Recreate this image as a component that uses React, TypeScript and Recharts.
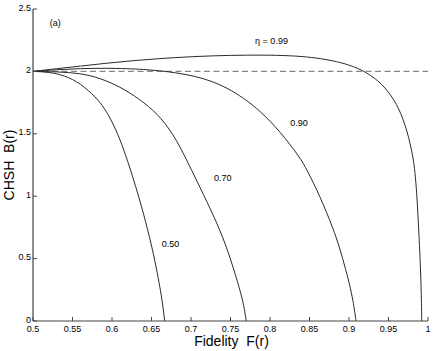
import React from 'react';
import { LineChart, Line, XAxis, YAxis, ReferenceLine, ReferenceDot, Label } from 'recharts';

// tick values
const xTicks = [0.5, 0.55, 0.6, 0.65, 0.7, 0.75, 0.8, 0.85, 0.9, 0.95, 1];
const yTicks = [0, 0.5, 1, 1.5, 2, 2.5];

// eta = 0.50
const fEta50 = [0.5, 0.52, 0.54, 0.56, 0.58, 0.59, 0.6, 0.61, 0.62, 0.63, 0.64, 0.65, 0.656, 0.661, 0.664, 0.6667];
const bEta50 = [2.0, 1.995, 1.968, 1.905, 1.79, 1.71, 1.6, 1.46, 1.28, 1.08, 0.86, 0.61, 0.43, 0.26, 0.14, 0];

// eta = 0.70
const fEta70 = [0.5, 0.53, 0.56, 0.585, 0.61, 0.635, 0.657, 0.6776, 0.6946, 0.7072, 0.7241, 0.7409, 0.7535, 0.7642, 0.7675, 0.77];
const bEta70 = [2.0, 1.997, 1.986, 1.946, 1.878, 1.778, 1.665, 1.5, 1.29, 1.125, 0.905, 0.67, 0.43, 0.2, 0.1, 0];

// eta = 0.90
const fEta90 = [0.5, 0.53, 0.56, 0.59, 0.62, 0.64, 0.66, 0.68, 0.703, 0.725, 0.7452, 0.767, 0.7873, 0.8127, 0.838, 0.8465, 0.8633, 0.8801, 0.888, 0.896, 0.902, 0.906, 0.9075, 0.909];
const bEta90 = [2.0, 2.014, 2.023, 2.026, 2.022, 2.016, 2.006, 1.99, 1.965, 1.925, 1.87, 1.785, 1.685, 1.52, 1.31, 1.215, 1.0, 0.74, 0.59, 0.41, 0.26, 0.13, 0.06, 0];

// eta = 0.99
const fEta99 = [0.5, 0.53, 0.56, 0.59, 0.62, 0.65, 0.69, 0.73, 0.77, 0.81, 0.84, 0.865, 0.885, 0.9, 0.912, 0.922, 0.932, 0.941, 0.95, 0.957, 0.963, 0.968, 0.972, 0.9756, 0.9785, 0.981, 0.9835, 0.9857, 0.9877, 0.9893, 0.9905, 0.9913, 0.9918, 0.9919, 0.992];
const bEta99 = [2.0, 2.022, 2.042, 2.064, 2.082, 2.098, 2.115, 2.126, 2.131, 2.13, 2.121, 2.103, 2.078, 2.052, 2.022, 1.99, 1.948, 1.9, 1.835, 1.77, 1.7, 1.625, 1.55, 1.47, 1.39, 1.31, 1.2, 1.03, 0.8, 0.6, 0.42, 0.27, 0.13, 0.06, 0];

// annotation texts and their data positions
const noteText = ['(a)', '\u03b7 = 0.99', '0.90', '0.70', '0.50'];
const noteF = [0.5282, 0.8019, 0.8367, 0.7401, 0.674];
const noteB = [2.364, 2.22, 1.564, 1.118, 0.59];

const toPoints = (f: number[], b: number[]) => f.map((x, i) => ({ f: x, b: b[i] }));

const series = [
  { name: 'eta50', data: toPoints(fEta50, bEta50) },
  { name: 'eta70', data: toPoints(fEta70, bEta70) },
  { name: 'eta90', data: toPoints(fEta90, bEta90) },
  { name: 'eta99', data: toPoints(fEta99, bEta99) },
];

const FONT = '"Liberation Sans", Arial, Helvetica, sans-serif';
const AX = '#444';

export default function App() {
  return (
    <div>
      <style>{'body{margin:0}'}</style>
      <LineChart width={436} height={351} margin={{ top: 9, right: 8, left: 0, bottom: 0 }}>
        <XAxis
          xAxisId="x"
          dataKey="f"
          type="number"
          domain={[0.5, 1]}
          ticks={xTicks}
          allowDataOverflow
          height={30}
          tickSize={-4}
          tickMargin={9}
          axisLine={{ stroke: AX, strokeWidth: 1.2 }}
          tickLine={{ stroke: AX }}
          tick={{ fontSize: 9, fill: '#000', fontFamily: FONT }}
        >
          <Label
            content={(p: any) => (
              <text
                x={p.viewBox.x + p.viewBox.width / 2 + 1}
                y={p.viewBox.y + p.viewBox.height - 5}
                textAnchor="middle"
                fontSize={14}
                fontFamily={FONT}
                fill="#000"
              >
                {'Fidelity \u00a0F(r)'}
              </text>
            )}
          />
        </XAxis>
        <XAxis
          xAxisId="top"
          orientation="top"
          type="number"
          domain={[0.5, 1]}
          ticks={xTicks}
          height={0}
          tickSize={-4}
          tick={false}
          axisLine={{ stroke: AX, strokeWidth: 1.2 }}
          tickLine={{ stroke: AX }}
        />
        <YAxis
          yAxisId="y"
          type="number"
          domain={[0, 2.5]}
          ticks={yTicks}
          allowDataOverflow
          width={33}
          tickSize={-4}
          tickMargin={6}
          axisLine={{ stroke: AX, strokeWidth: 1.2 }}
          tickLine={{ stroke: AX }}
          tick={{ fontSize: 9, fill: '#000', fontFamily: FONT, dy: -1.5 }}
        >
          <Label
            content={(p: any) => {
              const cx = 13.5;
              const cy = p.viewBox.y + p.viewBox.height / 2;
              return (
                <text
                  x={cx}
                  y={cy}
                  transform={`rotate(-90, ${cx}, ${cy})`}
                  textAnchor="middle"
                  fontSize={14}
                  fontFamily={FONT}
                  fill="#000"
                >
                  {'CHSH \u00a0B(r)'}
                </text>
              );
            }}
          />
        </YAxis>
        <YAxis
          yAxisId="right"
          orientation="right"
          type="number"
          domain={[0, 2.5]}
          ticks={yTicks}
          width={0}
          tickSize={-4}
          tick={false}
          axisLine={{ stroke: AX, strokeWidth: 1.2 }}
          tickLine={{ stroke: AX }}
        />
        <ReferenceLine
          xAxisId="x"
          yAxisId="y"
          y={2}
          stroke="#888"
          strokeWidth={1.2}
          strokeDasharray="6 3.5"
        />
        {series.map((s) => (
          <Line
            key={s.name}
            xAxisId="x"
            yAxisId="y"
            data={s.data}
            dataKey="b"
            type="basis"
            stroke="#2a2a2a"
            strokeWidth={1}
            dot={false}
            activeDot={false}
            isAnimationActive={false}
          />
        ))}
        {noteText.map((t, i) => (
          <ReferenceDot
            key={t}
            xAxisId="x"
            yAxisId="y"
            x={noteF[i]}
            y={noteB[i]}
            r={0}
            fill="none"
            stroke="none"
            label={{
              content: (p: any) => (
                <text
                  x={p.viewBox.x + (p.viewBox.width || 0) / 2}
                  y={p.viewBox.y + (p.viewBox.height || 0) / 2}
                  textAnchor="middle"
                  fontSize={9}
                  fontFamily={FONT}
                  fill="#000"
                >
                  {t}
                </text>
              ),
            }}
          />
        ))}
      </LineChart>
    </div>
  );
}
